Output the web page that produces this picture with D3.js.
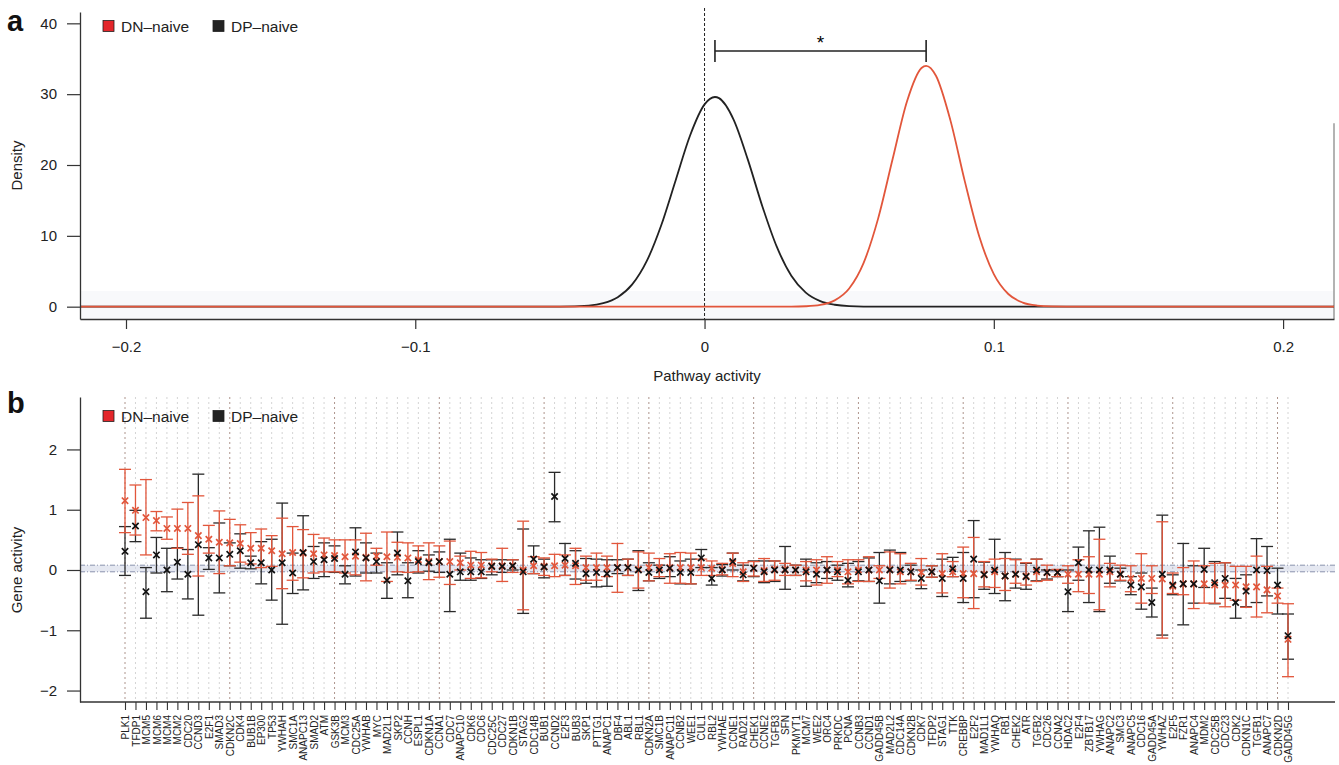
<!DOCTYPE html>
<html>
<head>
<meta charset="utf-8">
<script src="https://cdn.jsdelivr.net/npm/d3@7"></script>
<style>
    body { margin: 0; background: #fff; }
    svg { font-family: "Liberation Sans", Arial, Helvetica, sans-serif; }
</style>
</head>
<body>
<svg width="1339" height="765"></svg>
<script>
// ---- panel a: density of pathway activity ----
var pathwayDomain = [-0.2159, 0.2176];
var dpDensX = [-0.2159, -0.06, -0.05, -0.04, -0.035, -0.03, -0.025, -0.02, -0.015, -0.01, -0.005, 0, 0.0036, 0.005, 0.01, 0.015, 0.02, 0.025, 0.03, 0.035, 0.04, 0.045, 0.05, 0.06, 0.2176];
var dpDensY = [0, 0, 0.01, 0.16, 0.50, 1.34, 3.14, 6.42, 11.46, 17.82, 24.17, 28.56, 29.6, 29.44, 26.45, 20.72, 14.15, 8.43, 4.37, 1.98, 0.78, 0.27, 0.08, 0, 0];
var dnDensX = [-0.2159, 0.03, 0.035, 0.04, 0.045, 0.05, 0.055, 0.06, 0.065, 0.07, 0.075, 0.0766, 0.08, 0.085, 0.09, 0.095, 0.1, 0.105, 0.11, 0.115, 0.12, 0.13, 0.2176];
var dnDensY = [0, 0.01, 0.06, 0.25, 0.89, 2.57, 6.19, 12.43, 20.8, 29.0, 33.7, 34.0, 32.6, 26.3, 17.65, 9.87, 4.6, 1.79, 0.58, 0.16, 0.04, 0, 0];
var sigX = [0.0036, 0.0766];
var sigLevel = 36.1;
var pathwayTicks = [-0.2, -0.1, 0, 0.1, 0.2];
var densityTicks = [0, 10, 20, 30, 40];

// ---- panel b: gene activity, mean with interval ----
var genes = ['PLK1', 'TFDP1', 'MCM5', 'MCM6', 'MCM4', 'MCM2', 'CDC20', 'CCND3', 'E2F1', 'SMAD3',
    'CDKN2C', 'CDK4', 'BUB1B', 'EP300', 'TP53', 'YWHAH', 'SMC1A', 'ANAPC13', 'SMAD2', 'ATM',
    'GSK3B', 'MCM3', 'CDC25A', 'YWHAB', 'MYC', 'MAD2L1', 'SKP2', 'CCNH', 'ESPL1', 'CDKN1A',
    'CCNA1', 'CDC7', 'ANAPC10', 'CDK6', 'CDC6', 'CDC25C', 'CDC27', 'CDKN1B', 'STAG2', 'CDC14B',
    'BUB1', 'CCND2', 'E2F3', 'BUB3', 'SKP1', 'PTTG1', 'ANAPC1', 'DBF4', 'ABL1', 'RBL1',
    'CDKN2A', 'SMC1B', 'ANAPC11', 'CCNB2', 'WEE1', 'CUL1', 'RBL2', 'YWHAE', 'CCNE1', 'RAD21',
    'CHEK1', 'CCNE2', 'TGFB3', 'SFN', 'PKMYT1', 'MCM7', 'WEE2', 'ORC4', 'PRKDC', 'PCNA',
    'CCNB3', 'CCND1', 'GADD45B', 'MAD2L2', 'CDC14A', 'CDKN2B', 'CDK7', 'TFDP2', 'STAG1', 'TTK',
    'CREBBP', 'E2F2', 'MAD1L1', 'YWHAQ', 'RB1', 'CHEK2', 'ATR', 'TGFB2', 'CDC26', 'CCNA2',
    'HDAC2', 'E2F4', 'ZBTB17', 'YWHAG', 'ANAPC2', 'SMC3', 'ANAPC5', 'CDC16', 'GADD45A', 'YWHAZ',
    'E2F5', 'FZR1', 'ANAPC4', 'MDM2', 'CDC25B', 'CDC23', 'CDK2', 'CDKN1C', 'TGFB1', 'ANAPC7',
    'CDKN2D', 'GADD45G'];

var dnHi = [1.67, 1.41, 1.50, 0.97, 0.88, 1.01, 1.12, 1.23, 0.74, 0.98,
    0.84, 0.75, 0.62, 0.68, 0.57, 0.86, 0.72, 0.67, 0.59, 0.53,
    0.50, 0.50, 0.50, 0.61, 0.36, 0.63, 0.46, 0.45, 0.40, 0.45,
    0.40, 0.48, 0.23, 0.31, 0.29, 0.18, 0.36, 0.17, 0.81, 0.22,
    0.20, 0.26, 0.25, 0.36, 0.23, 0.28, 0.23, 0.44, 0.18, 0.30,
    0.28, 0.19, 0.27, 0.29, 0.28, 0.18, 0.15, 0.11, 0.28, 0.12,
    0.14, 0.19, 0.15, 0.11, 0.08, 0.14, 0.17, 0.22, 0.14, 0.17,
    0.17, 0.22, 0.07, 0.30, 0.27, 0.11, 0.19, 0.07, 0.27, 0.14,
    0.38, 0.54, 0.14, 0.18, 0.19, 0.17, 0.12, 0.18, 0.08, 0.01,
    0.07, 0.17, 0.22, 0.51, 0.11, 0.08, 0.07, 0.27, 0.07, 0.80,
    -0.05, 0.04, 0.15, 0.07, 0.11, 0.12, 0.06, 0.06, 0.23, 0.06,
    -0.30, -0.56];
var dnMean = [1.15, 0.99, 0.87, 0.82, 0.69, 0.69, 0.69, 0.57, 0.51, 0.46,
    0.45, 0.44, 0.36, 0.36, 0.32, 0.27, 0.29, 0.28, 0.27, 0.25,
    0.24, 0.22, 0.23, 0.21, 0.23, 0.22, 0.21, 0.20, 0.17, 0.14,
    0.14, 0.14, 0.12, 0.08, 0.08, 0.07, 0.07, 0.07, 0.00, 0.07,
    0.06, 0.07, 0.08, 0.07, 0.04, 0.04, 0.04, 0.04, 0.04, 0.01,
    0.04, 0.04, 0.04, 0.04, 0.04, 0.04, 0.03, 0.01, 0.11, -0.03,
    0.03, -0.01, 0.01, 0.01, 0.00, 0.00, 0.00, 0.00, 0.00, -0.03,
    0.00, 0.00, 0.00, 0.01, -0.03, -0.03, -0.04, -0.03, -0.06, -0.03,
    -0.06, -0.06, -0.07, -0.03, -0.10, -0.07, -0.10, -0.03, -0.04, -0.04,
    -0.07, -0.07, -0.07, -0.07, -0.03, -0.07, -0.14, -0.14, -0.14, -0.15,
    -0.27, -0.23, -0.23, -0.23, -0.25, -0.25, -0.25, -0.28, -0.28, -0.33,
    -0.43, -1.15];
var dnLo = [0.62, 0.58, 0.25, 0.65, 0.51, 0.36, 0.26, -0.10, 0.28, -0.06,
    0.07, 0.13, 0.10, 0.04, 0.06, -0.31, -0.17, -0.13, -0.05, -0.03,
    -0.03, -0.05, -0.08, -0.18, 0.08, -0.19, -0.03, -0.04, -0.03, -0.16,
    -0.12, -0.24, 0.00, -0.14, -0.13, -0.03, -0.19, -0.04, -0.66, -0.06,
    -0.09, -0.11, -0.09, -0.24, -0.17, -0.17, -0.11, -0.37, -0.09, -0.30,
    -0.18, -0.11, -0.22, -0.22, -0.23, -0.09, -0.09, -0.08, -0.11, -0.19,
    -0.10, -0.19, -0.17, -0.09, -0.09, -0.18, -0.25, -0.22, -0.11, -0.23,
    -0.19, -0.19, -0.14, -0.30, -0.23, -0.17, -0.25, -0.12, -0.38, -0.11,
    -0.46, -0.64, -0.28, -0.29, -0.34, -0.22, -0.25, -0.19, -0.17, -0.11,
    -0.22, -0.36, -0.39, -0.66, -0.28, -0.17, -0.36, -0.55, -0.39, -1.13,
    -0.39, -0.41, -0.64, -0.55, -0.55, -0.61, -0.50, -0.62, -0.78, -0.71,
    -0.55, -1.77];

var dpHi = [0.72, 0.99, 0.04, 0.54, 0.36, 0.37, 0.34, 1.59, 0.37, 0.78,
    0.45, 0.60, 0.23, 0.47, 0.51, 1.11, 0.28, 0.90, 0.39, 0.45,
    0.40, 0.07, 0.70, 0.45, 0.28, 0.12, 0.63, 0.12, 0.32, 0.25,
    0.30, 0.51, 0.28, 0.20, 0.17, 0.17, 0.17, 0.17, 0.68, 0.40,
    0.18, 1.62, 0.44, 0.32, 0.19, 0.18, 0.17, 0.17, 0.18, 0.32,
    0.12, 0.08, 0.22, 0.15, 0.18, 0.34, 0.04, 0.09, 0.28, 0.08,
    0.15, 0.15, 0.15, 0.39, 0.08, 0.18, 0.12, 0.14, 0.08, 0.11,
    0.14, 0.20, 0.29, 0.33, 0.29, 0.08, 0.00, 0.07, 0.18, 0.21,
    0.29, 0.82, 0.13, 0.51, 0.29, 0.18, 0.11, 0.18, 0.00, 0.00,
    0.00, 0.38, 0.65, 0.71, 0.23, 0.03, -0.11, -0.05, -0.30, 0.91,
    -0.08, 0.44, 0.07, 0.36, 0.14, 0.12, -0.14, -0.08, 0.52, 0.39,
    0.03, -0.73];
var dpMean = [0.31, 0.73, -0.36, 0.25, 0.00, 0.13, -0.07, 0.42, 0.20, 0.20,
    0.26, 0.32, 0.12, 0.12, 0.00, 0.12, -0.05, 0.29, 0.14, 0.17,
    0.19, -0.07, 0.30, 0.20, 0.14, -0.17, 0.28, -0.18, 0.14, 0.12,
    0.14, -0.07, -0.03, -0.03, -0.03, 0.06, 0.06, 0.07, -0.03, 0.18,
    0.05, 1.22, 0.19, 0.11, -0.06, -0.04, -0.06, 0.04, 0.04, 0.00,
    -0.04, 0.00, 0.03, -0.04, -0.04, 0.20, -0.14, 0.00, 0.14, -0.08,
    0.03, -0.03, 0.00, 0.00, 0.00, -0.03, -0.07, 0.00, -0.03, -0.17,
    -0.03, 0.00, -0.18, 0.00, 0.00, -0.03, -0.14, -0.03, -0.14, 0.02,
    -0.14, 0.18, -0.08, 0.00, -0.10, -0.07, -0.11, 0.00, -0.04, -0.04,
    -0.36, 0.12, 0.00, 0.00, 0.00, -0.07, -0.25, -0.28, -0.54, -0.07,
    -0.25, -0.23, -0.23, 0.01, -0.21, -0.14, -0.54, -0.35, 0.00, -0.01,
    -0.25, -1.09];
var dpLo = [-0.09, 0.47, -0.80, -0.05, -0.36, -0.15, -0.48, -0.75, 0.01, -0.38,
    0.07, 0.03, 0.02, -0.23, -0.50, -0.90, -0.39, -0.33, -0.14, -0.11,
    -0.04, -0.23, -0.10, -0.05, -0.05, -0.47, -0.08, -0.46, -0.05, -0.02,
    -0.04, -0.69, -0.17, -0.17, -0.14, -0.08, -0.04, 0.00, -0.72, -0.06,
    -0.13, 0.80, -0.09, -0.15, -0.22, -0.28, -0.27, -0.06, -0.09, -0.34,
    -0.18, -0.14, -0.11, -0.23, -0.23, 0.04, -0.25, -0.10, 0.00, -0.18,
    -0.11, -0.21, -0.19, -0.32, -0.09, -0.27, -0.21, -0.14, -0.17, -0.28,
    -0.18, -0.19, -0.55, -0.23, -0.19, -0.18, -0.31, -0.12, -0.44, -0.11,
    -0.54, -0.46, -0.32, -0.39, -0.51, -0.30, -0.32, -0.18, -0.15, -0.11,
    -0.69, -0.17, -0.54, -0.69, -0.22, -0.18, -0.41, -0.65, -0.78, -1.08,
    -0.41, -0.91, -0.55, -0.29, -0.56, -0.47, -0.80, -0.61, -0.54, -0.43,
    -0.73, -1.48];
var geneTicks = [-2, -1, 0, 1, 2];
var zeroBand = [-0.03, 0.08];

var seriesNames = ['DN\u2013naive', 'DP\u2013naive'];

var RED = '#e2563b';
var RED_KEY = '#e3262b';
var BLACK = '#222222';
var AXIS = '#333333';

var svg = d3.select('svg');

var topBox = {left: 80, right: 1334, top: 12, bottom: 319};
var botBox = {left: 80, right: 1335, top: 397, bottom: 702};

var xTop = d3.scaleLinear().domain(pathwayDomain).range([topBox.left, topBox.right]);
var yTop = d3.scaleLinear().domain([-1.74, 41.6]).range([topBox.bottom, topBox.top]);
var xGene = d3.scalePoint().domain(genes).range([125, 1288]);
var yBot = d3.scaleLinear().domain([-2.19, 2.87]).range([botBox.bottom, botBox.top]);

var numFmt = function (d) {
    return d === 0 ? '0' : (Number.isInteger(d) ? d3.format('d')(d) : d3.format('.1f')(d));
};

var styleAxis = function (g) {
    g.selectAll('path.domain').attr('stroke', AXIS).attr('stroke-width', 1.3);
    g.selectAll('.tick line').attr('stroke', AXIS).attr('stroke-width', 1.2);
    g.selectAll('.tick text').attr('fill', '#222').style('font-size', '15px');
};

var drawLegend = function (cy) {
    var keys = [{x: 103, fill: RED_KEY}, {x: 213, fill: BLACK}];
    var lg = svg.append('g');
    keys.forEach(function (k, i) {
        lg.append('rect')
            .attr('x', k.x).attr('y', cy - 5.5)
            .attr('width', 11).attr('height', 11)
            .attr('fill', k.fill).attr('stroke', '#222').attr('stroke-width', 0.8);
        lg.append('text')
            .attr('x', k.x + 18).attr('y', cy)
            .attr('dy', '0.36em')
            .style('font-size', '15.5px')
            .attr('fill', '#222')
            .text(seriesNames[i]);
    });
};

// ================= panel a =================
svg.append('rect')
    .attr('x', topBox.left).attr('y', yTop(2.2))
    .attr('width', topBox.right - topBox.left).attr('height', topBox.bottom - yTop(2.2))
    .attr('fill', '#f8f9fb');

// dashed reference at zero
svg.append('line')
    .attr('x1', xTop(0)).attr('x2', xTop(0))
    .attr('y1', 8).attr('y2', topBox.bottom)
    .attr('stroke', '#222').attr('stroke-width', 1)
    .attr('stroke-dasharray', '3,2');

// right frame remnant
svg.append('line')
    .attr('x1', topBox.right).attr('x2', topBox.right)
    .attr('y1', yTop(25.9)).attr('y2', topBox.bottom)
    .attr('stroke', '#9a9a9a').attr('stroke-width', 1.5);

var densLine = d3.line()
    .x(function (d) { return xTop(d[0]); })
    .y(function (d) { return yTop(d[1]); })
    .curve(d3.curveMonotoneX);

svg.append('path')
    .datum(d3.zip(dpDensX, dpDensY))
    .attr('d', densLine)
    .attr('fill', 'none').attr('stroke', BLACK).attr('stroke-width', 1.8);

svg.append('path')
    .datum(d3.zip(dnDensX, dnDensY))
    .attr('d', densLine)
    .attr('fill', 'none').attr('stroke', RED).attr('stroke-width', 1.8);

// significance bracket
var br = svg.append('g').attr('stroke', '#222').attr('stroke-width', 1.6);
br.append('line')
    .attr('x1', xTop(sigX[0])).attr('x2', xTop(sigX[1]))
    .attr('y1', yTop(sigLevel)).attr('y2', yTop(sigLevel));
sigX.forEach(function (v) {
    br.append('line')
        .attr('x1', xTop(v)).attr('x2', xTop(v))
        .attr('y1', yTop(sigLevel) - 11).attr('y2', yTop(sigLevel) + 11);
});
svg.append('text')
    .attr('x', xTop(d3.mean(sigX))).attr('y', yTop(sigLevel) - 2)
    .attr('text-anchor', 'middle')
    .style('font-size', '19px')
    .text('*');

svg.append('g')
    .attr('transform', 'translate(' + topBox.left + ',0)')
    .call(d3.axisLeft(yTop).tickValues(densityTicks).tickSize(13).tickSizeOuter(0).tickPadding(10).tickFormat(numFmt))
    .call(styleAxis);

svg.append('g')
    .attr('transform', 'translate(0,' + topBox.bottom + ')')
    .call(d3.axisBottom(xTop).tickValues(pathwayTicks).tickSize(10).tickSizeOuter(0).tickPadding(12).tickFormat(numFmt))
    .call(styleAxis);

svg.append('text')
    .attr('x', (topBox.left + topBox.right) / 2).attr('y', 381)
    .attr('text-anchor', 'middle')
    .style('font-size', '15px').attr('fill', '#222')
    .text('Pathway activity');

svg.append('text')
    .attr('transform', 'translate(22,' + (topBox.top + topBox.bottom) / 2 + ') rotate(-90)')
    .attr('text-anchor', 'middle')
    .style('font-size', '15px').attr('fill', '#222')
    .text('Density');

drawLegend(26);

// ================= panel b =================
var grid = svg.append('g');
genes.forEach(function (g, i) {
    grid.append('line')
        .attr('x1', xGene(g)).attr('x2', xGene(g))
        .attr('y1', botBox.top).attr('y2', botBox.bottom)
        .attr('stroke', i % 10 === 0 ? '#ad948c' : '#d4d4d4')
        .attr('stroke-width', 1)
        .attr('stroke-dasharray', '2,3');
});

svg.append('rect')
    .attr('x', botBox.left).attr('y', yBot(zeroBand[1]))
    .attr('width', botBox.right - botBox.left)
    .attr('height', yBot(zeroBand[0]) - yBot(zeroBand[1]))
    .attr('fill', '#cfd6e6').attr('opacity', 0.55);
zeroBand.forEach(function (v) {
    svg.append('line')
        .attr('x1', botBox.left).attr('x2', botBox.right)
        .attr('y1', yBot(v)).attr('y2', yBot(v))
        .attr('stroke', '#7f88a6').attr('stroke-width', 0.9)
        .attr('stroke-dasharray', '5,2,1,2');
});

var rowsFor = function (hi, mean, lo) {
    return genes.map(function (g, i) { return {gene: g, hi: hi[i], mean: mean[i], lo: lo[i]}; });
};
var dnRows = rowsFor(dnHi, dnMean, dnLo);
var dpRows = rowsFor(dpHi, dpMean, dpLo);

// interval bars with caps
var drawBars = function (rows, color) {
    var gs = svg.append('g')
        .selectAll('g')
        .data(rows)
        .enter()
        .append('g')
        .attr('transform', function (d) { return 'translate(' + xGene(d.gene) + ',0)'; })
        .attr('stroke', color)
        .attr('stroke-width', 1.3);

    gs.append('line')
        .attr('x1', 0).attr('x2', 0)
        .attr('y1', function (d) { return yBot(d.hi); })
        .attr('y2', function (d) { return yBot(d.lo); });
    gs.append('line')
        .attr('x1', -6).attr('x2', 6)
        .attr('y1', function (d) { return yBot(d.hi); })
        .attr('y2', function (d) { return yBot(d.hi); });
    gs.append('line')
        .attr('x1', -6).attr('x2', 6)
        .attr('y1', function (d) { return yBot(d.lo); })
        .attr('y2', function (d) { return yBot(d.lo); });
};

var marker = d3.symbol().type(d3.symbolX).size(28);
var drawMarks = function (rows, color) {
    svg.append('g')
        .selectAll('path')
        .data(rows)
        .enter()
        .append('path')
        .attr('d', marker)
        .attr('transform', function (d) {
            return 'translate(' + xGene(d.gene) + ',' + yBot(d.mean) + ')';
        })
        .attr('fill', 'none')
        .attr('stroke', color)
        .attr('stroke-width', 1.7);
};

// black first so red bars sit on top; black crosses stay visible
drawBars(dpRows, '#2a2a2a');
drawBars(dnRows, RED);
drawMarks(dnRows, RED);
drawMarks(dpRows, '#111');

svg.append('g')
    .attr('transform', 'translate(' + botBox.left + ',0)')
    .call(d3.axisLeft(yBot).tickValues(geneTicks).tickSize(13).tickSizeOuter(0).tickPadding(10).tickFormat(numFmt))
    .call(styleAxis);

var gx = svg.append('g')
    .attr('transform', 'translate(0,' + botBox.bottom + ')')
    .call(d3.axisBottom(xGene).tickSize(8).tickSizeOuter(0));
gx.select('path.domain').remove();
gx.selectAll('.tick line').attr('stroke', AXIS).attr('stroke-width', 1.1);
gx.selectAll('.tick text')
    .attr('transform', 'rotate(-90)')
    .attr('x', -13).attr('y', 0)
    .attr('dy', '0.36em')
    .attr('text-anchor', 'end')
    .attr('fill', '#222')
    .style('font-size', '10px');

svg.append('line')
    .attr('x1', botBox.left).attr('x2', botBox.right)
    .attr('y1', botBox.bottom).attr('y2', botBox.bottom)
    .attr('stroke', AXIS).attr('stroke-width', 1.3);

svg.append('text')
    .attr('transform', 'translate(22,' + yBot(0) + ') rotate(-90)')
    .attr('text-anchor', 'middle')
    .style('font-size', '15px').attr('fill', '#222')
    .text('Gene activity');

drawLegend(416);

// panel letters
svg.append('text').attr('x', 7).attr('y', 31)
    .style('font-size', '29px').style('font-weight', 'bold').attr('fill', '#111').text('a');
svg.append('text').attr('x', 7).attr('y', 413)
    .style('font-size', '29px').style('font-weight', 'bold').attr('fill', '#111').text('b');
</script>
</body>
</html>
